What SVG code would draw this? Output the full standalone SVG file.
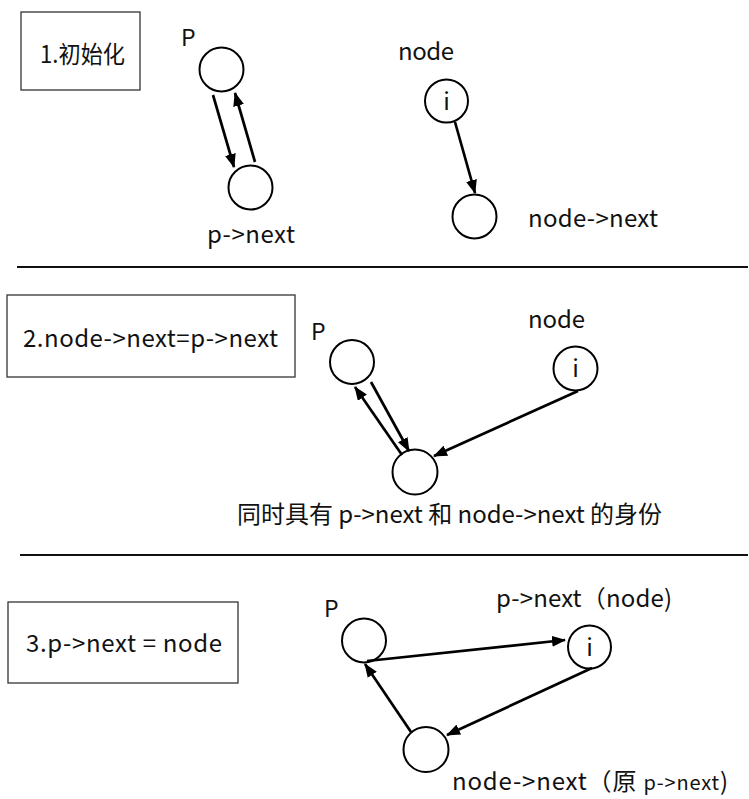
<svg xmlns="http://www.w3.org/2000/svg" width="749" height="799" viewBox="0 0 749 799">
<style>
  .t { font-family: "Noto Sans CJK SC", "Noto Sans", sans-serif; font-size: 24px; fill: #111; }
  .lbl { font-size: 23px; }
  .box { fill: #fff; stroke: #333; stroke-width: 1.3; }
  .node { fill: #fff; stroke: #000; stroke-width: 2; }
  .edge { stroke: #000; stroke-width: 2.7; fill: none; marker-end: url(#arr); }
  .div { stroke: #111; stroke-width: 2; }
</style>
<defs>
  <marker id="arr" markerUnits="userSpaceOnUse" markerWidth="14" markerHeight="11" refX="13" refY="5.5" orient="auto">
    <path d="M0,0 L14,5.5 L0,11 z" fill="#000"/>
  </marker>
</defs>
<rect width="749" height="799" fill="#fff"/>

<!-- Dividers -->
<g id="dividers">
  <line class="div" x1="17" y1="267" x2="748" y2="267"/>
  <line class="div" x1="20" y1="555" x2="748" y2="555"/>
</g>

<!-- Section 1 -->
<g id="step1-box">
  <rect class="box" x="21" y="12" width="119" height="78"/>
  <text class="t" x="40" y="63" textLength="85" lengthAdjust="spacingAndGlyphs">1.初始化</text>
</g>
<g id="s1-p">
  <circle class="node" cx="221.5" cy="69.5" r="22"/>
  <text class="t lbl" x="181" y="46">P</text>
</g>
<g id="s1-pnext">
  <circle class="node" cx="250.5" cy="187.5" r="22"/>
  <text class="t" x="207" y="243" textLength="88" lengthAdjust="spacing">p-&gt;next</text>
</g>
<g id="s1-node">
  <circle class="node" cx="446.5" cy="101" r="21.5"/>
  <text class="t" x="446.5" y="110" text-anchor="middle">i</text>
  <text class="t" x="398" y="60" textLength="56" lengthAdjust="spacing">node</text>
</g>
<g id="s1-nodenext">
  <circle class="node" cx="474.5" cy="216.5" r="22"/>
  <text class="t" x="528" y="227" textLength="130" lengthAdjust="spacing">node-&gt;next</text>
</g>

<!-- Section 2 -->
<g id="step2-box">
  <rect class="box" x="7" y="295" width="288" height="82"/>
  <text class="t" x="23" y="347" textLength="255" lengthAdjust="spacing">2.node-&gt;next=p-&gt;next</text>
</g>
<g id="s2-p">
  <circle class="node" cx="352" cy="362" r="22"/>
  <text class="t lbl" x="311" y="340">P</text>
</g>
<g id="s2-node">
  <circle class="node" cx="575.5" cy="368.5" r="22"/>
  <text class="t" x="575.5" y="377" text-anchor="middle">i</text>
  <text class="t" x="528" y="328" textLength="57" lengthAdjust="spacing">node</text>
</g>
<g id="s2-next">
  <circle class="node" cx="415" cy="472" r="22.5"/>
  <text class="t" x="237" y="523" textLength="425" lengthAdjust="spacing">同时具有 p-&gt;next 和 node-&gt;next 的身份</text>
</g>

<!-- Section 3 -->
<g id="step3-box">
  <rect class="box" x="8" y="602" width="230" height="81"/>
  <text class="t" x="26" y="652" textLength="196" lengthAdjust="spacing">3.p-&gt;next = node</text>
</g>
<g id="s3-p">
  <circle class="node" cx="364" cy="640.5" r="22"/>
  <text class="t lbl" x="324" y="617">P</text>
</g>
<g id="s3-node">
  <circle class="node" cx="589.5" cy="647" r="21.5"/>
  <text class="t" x="589.5" y="656" text-anchor="middle">i</text>
  <text class="t" x="496" y="607" textLength="176" lengthAdjust="spacing">p-&gt;next（node)</text>
</g>
<g id="s3-next">
  <circle class="node" cx="426" cy="749.5" r="22.5"/>
  <text class="t" x="452" y="790" textLength="276" lengthAdjust="spacing">node-&gt;next（原 <tspan font-size="20">p-&gt;next</tspan>)</text>
</g>

<!-- Connectors -->
<g id="connectors">
  <line class="edge" x1="213" y1="95" x2="234" y2="167"/>
  <line class="edge" x1="255" y1="162" x2="235" y2="93"/>
  <line class="edge" x1="455" y1="122" x2="475" y2="193"/>

  <line class="edge" x1="371" y1="382" x2="409" y2="451"/>
  <line class="edge" x1="402" y1="455" x2="355" y2="387"/>
  <line class="edge" x1="578" y1="391" x2="434" y2="456"/>

  <line class="edge" x1="367" y1="661" x2="565" y2="640"/>
  <line class="edge" x1="592" y1="668" x2="447" y2="735"/>
  <line class="edge" x1="411" y1="732" x2="365" y2="664"/>
</g>
</svg>
